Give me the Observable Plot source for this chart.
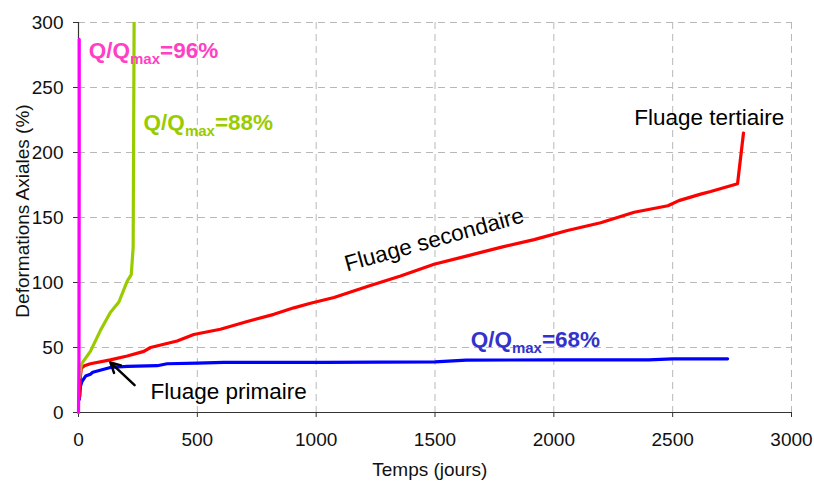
<!DOCTYPE html>
<html>
<head>
<meta charset="utf-8">
<script src="https://cdn.jsdelivr.net/npm/d3@7"></script>
<script src="https://cdn.jsdelivr.net/npm/@observablehq/plot@0.6"></script>
<style>
  html, body { margin: 0; padding: 0; background: #fff; }
  #chart { width: 814px; height: 481px; }
</style>
</head>
<body>
<div id="chart"></div>
<script>
// ---- Data ----
const xTicks = [0, 500, 1000, 1500, 2000, 2500, 3000];
const yTicks = [0, 50, 100, 150, 200, 250, 300];

// Q/Qmax = 96 % (magenta)
const magentaDays = [0, 2, 3, 3];
const magentaDef  = [0, 40, 200, 287];

// Q/Qmax = 88 % (green)
const greenDays = [5, 10, 15, 50, 92, 134, 170, 205, 222, 230, 234];
const greenDef  = [27, 35, 38, 47, 63, 77, 85, 101, 106, 127, 300];

// Red test (primary / secondary / tertiary creep)
const redDays = [5, 8, 12, 25, 50, 134, 205, 275, 303, 415, 485, 597, 710, 822, 906, 976,
                 1075, 1215, 1355, 1496, 1636, 1776, 1917, 2057, 2197, 2338, 2480, 2526,
                 2618, 2660, 2773, 2798];
const redDef  = [12, 28, 34, 36, 37.5, 40.5, 43.5, 47, 50, 55, 60, 64, 70, 75.5, 80.5, 84,
                 88.5, 97, 105, 114, 120.5, 127, 133, 140, 146, 154, 159, 163,
                 168, 170, 176, 215];

// Q/Qmax = 68 % (blue)
const blueDays = [3, 8, 15, 30, 50, 60, 134, 205, 331, 373, 500, 611, 1032, 1500, 1632, 2000, 2400, 2500, 2731];
const blueDef  = [10, 20, 24, 28, 29.5, 31, 34.6, 35.5, 36, 37.5, 38, 38.5, 38.5, 39, 40.3, 40.5, 40.5, 41.2, 41.3];

// Annotation texts
const qLabels = ["Q/Qmax=96%", "Q/Qmax=88%", "Q/Qmax=68%"];
const qColors = ["#ff3fc4", "#99cc00", "#3333cc"];
const qAt     = [[43, 273], [274, 217], [1650, 50.5]];

const phaseStart  = ["Fluage primaire", "Fluage tertiaire"];
const phaseStartAt = [[303, 10.3], [2338, 221.3]];
const phaseSlanted = "Fluage secondaire";
const phaseSlantedAt = [1505, 127.5];

const arrowFrom = [236, 21];
const arrowTo   = [134, 38.5];

const xTitle = "Temps (jours)";
const yTitle = "Deformations Axiales (%)";

// ---- Build tables ----
const toRows = (ds, vs) => ds.map((d, i) => ({t: d, v: vs[i]}));
const magenta = toRows(magentaDays, magentaDef);
const green   = toRows(greenDays, greenDef);
const red     = toRows(redDays, redDef);
const blue    = toRows(blueDays, blueDef);
const qRows   = qLabels.map((s, i) => ({text: s, color: qColors[i], t: qAt[i][0], v: qAt[i][1]}));
const phRows  = phaseStart.map((s, i) => ({text: s, t: phaseStartAt[i][0], v: phaseStartAt[i][1]}));

const font = "Liberation Sans, Arial, Helvetica, sans-serif";

const plot = Plot.plot({
  width: 814,
  height: 481,
  marginLeft: 78,
  marginRight: 23,
  marginTop: 22,
  marginBottom: 69,
  style: {fontFamily: font, color: "#111", background: "#fff"},
  x: {domain: [0, 3000]},
  y: {domain: [0, 300]},
  marks: [
    Plot.gridX(xTicks.filter(d => d > 0), {stroke: "#b8b8b8", strokeOpacity: 1, strokeDasharray: "7,5"}),
    Plot.gridY(yTicks.filter(d => d > 0), {stroke: "#b8b8b8", strokeOpacity: 1, strokeDasharray: "7,5"}),
    Plot.axisX({ticks: xTicks, tickSize: 5, tickPadding: 15, fontSize: 19, label: null, tickFormat: d => String(d), stroke: "#333"}),
    Plot.axisY({ticks: yTicks, tickSize: 5, tickPadding: 10, fontSize: 19, label: null, tickFormat: d => String(d), stroke: "#333"}),
    Plot.ruleY([0], {stroke: "#333", strokeWidth: 1.2}),
    Plot.ruleX([0], {stroke: "#333", strokeWidth: 1.2}),
    Plot.line(blue,    {x: "t", y: "v", stroke: "#0000ff", strokeWidth: 3.2}),
    Plot.line(red,     {x: "t", y: "v", stroke: "#ff0000", strokeWidth: 3.2}),
    Plot.line(green,   {x: "t", y: "v", stroke: "#99cc00", strokeWidth: 3.2, clip: true}),
    Plot.line(magenta, {x: "t", y: "v", stroke: "#ff00ff", strokeWidth: 3.2}),
    Plot.arrow([{x1: arrowFrom[0], y1: arrowFrom[1], x2: arrowTo[0], y2: arrowTo[1]}],
      {x1: "x1", y1: "y1", x2: "x2", y2: "y2", stroke: "#000", strokeWidth: 2.5, headLength: 13, headAngle: 55}),
    Plot.text(qRows, {x: "t", y: "v", text: "text", fill: "color", fontSize: 22.5, fontWeight: "bold",
      textAnchor: "start", lineAnchor: "bottom"}),
    Plot.text(phRows, {x: "t", y: "v", text: "text", fill: "#000", fontSize: 22.5,
      textAnchor: "start", lineAnchor: "bottom"}),
    Plot.text([phaseSlanted], {x: phaseSlantedAt[0], y: phaseSlantedAt[1], text: d => d, rotate: -15.5,
      fill: "#000", fontSize: 22.5, textAnchor: "middle", lineAnchor: "bottom"}),
    Plot.text([xTitle], {x: 1478, y: -44, text: d => d, fontSize: 19, fill: "#111", lineAnchor: "middle"}),
    Plot.text([yTitle], {x: -235, y: 155, text: d => d, fontSize: 19, fill: "#111", rotate: -90, lineAnchor: "middle"})
  ]
});

// Subscript "max" in Q/Qmax labels
d3.select(plot).selectAll("text").each(function() {
  const s = this.textContent;
  const m = /^Q\/Qmax(=.*)$/.exec(s);
  if (!m || this.children.length > 0) return;
  const el = d3.select(this);
  el.text(null);
  el.append("tspan").text("Q/Q");
  el.append("tspan").attr("dy", 6).attr("font-size", 15).text("max");
  el.append("tspan").attr("dy", -6).text(m[1]);
});

document.getElementById("chart").appendChild(plot);
</script>
</body>
</html>
